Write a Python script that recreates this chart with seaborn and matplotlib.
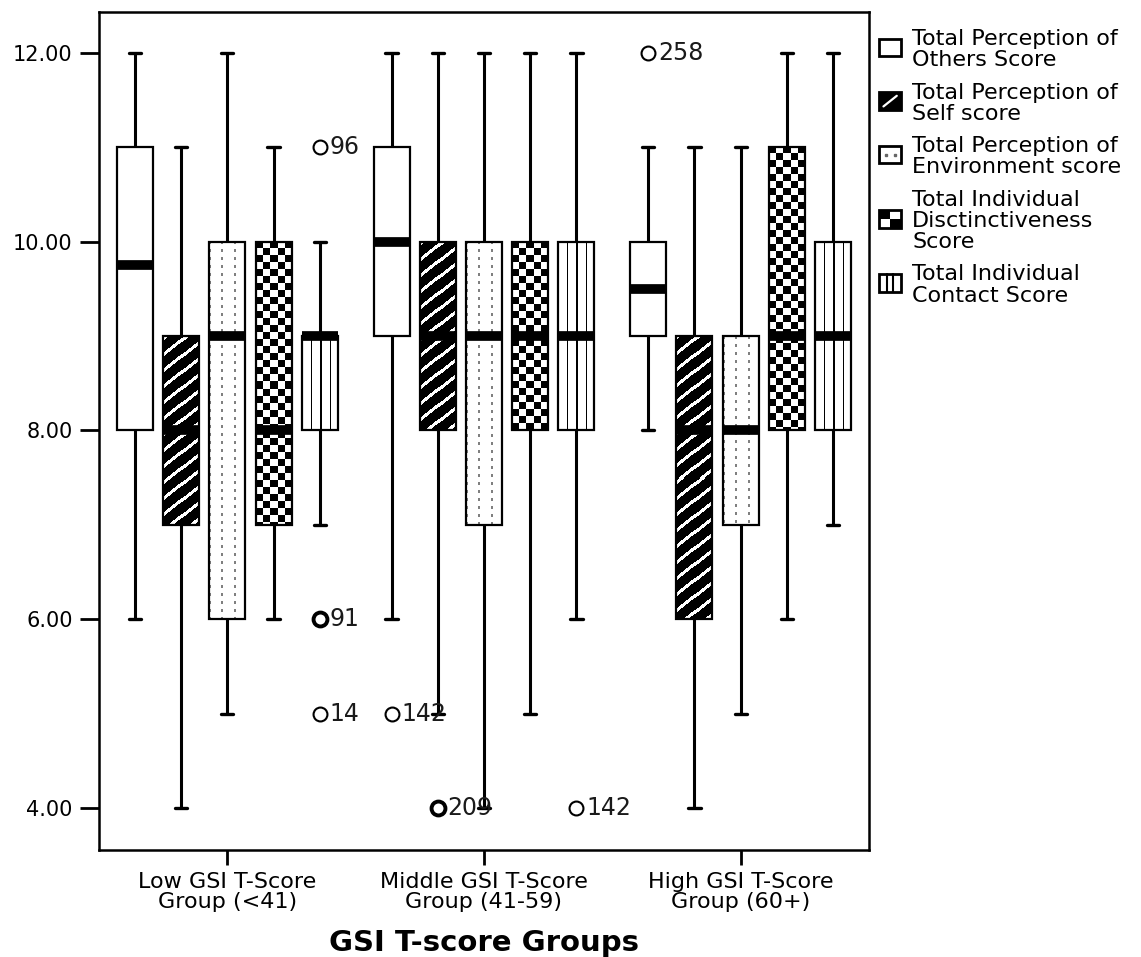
import numpy as np
import pandas as pd
import matplotlib
matplotlib.use("Agg")
import matplotlib.pyplot as plt
import seaborn as sns
from matplotlib.patches import Rectangle, Patch
from matplotlib.lines import Line2D
from matplotlib.ticker import FormatStrFormatter

# === DATA ===
groups = ["Low GSI T-Score\nGroup (<41)", "Middle GSI T-Score\nGroup (41-59)",
          "High GSI T-Score\nGroup (60+)"]
measures = ["Total Perception of\nOthers Score",
            "Total Perception of\nSelf score",
            "Total Perception of\nEnvironment score",
            "Total Individual\nDisctinctiveness\nScore",
            "Total Individual\nContact Score"]

# one row per measure, one column per group
whisk_lo = [[6, 6, 8], [4, 5, 4], [5, 4, 5], [6, 5, 6], [7, 6, 7]]
q1 = [[8, 9, 9], [7, 8, 6], [6, 7, 7], [7, 8, 8], [8, 8, 8]]
median = [[9.75, 10, 9.5], [8, 9, 8], [9, 9, 8], [8, 9, 9], [9, 9, 9]]
q3 = [[11, 11, 10], [9, 10, 9], [10, 10, 9], [10, 10, 11], [9, 10, 10]]
whisk_hi = [[12, 12, 11], [11, 12, 11], [12, 12, 11], [11, 12, 12], [10, 12, 12]]

# outliers: group index, measure index, value, case label, several cases
out_group = [0, 0, 0, 1, 1, 1, 2]
out_measure = [4, 4, 4, 0, 1, 4, 0]
out_value = [11, 6, 5, 5, 4, 4, 12]
out_label = ["96", "91", "14", "142", "209", "142", "258"]
out_multi = [False, True, False, False, True, False, False]

yticks = [4, 6, 8, 10, 12]

# === LONG TABLE: five-number summary per box ===
rows = []
for i, m in enumerate(measures):
    for j, g in enumerate(groups):
        for v in (whisk_lo[i][j], q1[i][j], median[i][j], q3[i][j], whisk_hi[i][j]):
            rows.append((g, m, v))
df = pd.DataFrame(rows, columns=["group", "measure", "score"])

sns.set_style("white")
plt.rcParams["font.family"] = ["DejaVu Sans"]
plt.rcParams["text.color"] = "black"
plt.rcParams["axes.labelcolor"] = "black"
plt.rcParams["xtick.color"] = "black"
plt.rcParams["ytick.color"] = "black"

W, H = 1141, 957
fig = plt.figure(figsize=(W / 100, H / 100), dpi=100)
ax = fig.add_axes([99 / W, 1 - 850 / H, (869 - 99) / W, (850 - 12) / H])

BOXW = 0.9
sns.boxplot(data=df, x="group", y="score", hue="measure", order=groups,
            hue_order=measures, whis=(0, 100), width=BOXW, gap=0.22,
            showfliers=False, palette=["white"] * len(measures), saturation=1,
            linecolor="black", linewidth=1.6, legend=False, ax=ax,
            medianprops=dict(linewidth=7, color="black", solid_capstyle="butt"),
            whiskerprops=dict(linewidth=2.2, color="black"),
            capprops=dict(linewidth=2.4, color="black"))

ax.set_xlim(-0.5, 2.5)
ax.set_ylim(3.555, 12.434)

# shorter whisker caps, as in SPSS
for ln in list(ax.lines):
    xd, yd = np.asarray(ln.get_xdata(), float), np.asarray(ln.get_ydata(), float)
    if len(xd) == 2 and yd[0] == yd[1] and ln.get_linewidth() < 5:
        xc = xd.mean()
        ln.set_xdata([xc - 0.024, xc + 0.024])


# === FILL PATTERNS (SPSS style) ===
def pattern(kind, w, h):
    r, c = np.mgrid[0:h, 0:w]
    if kind == 1:   # white diagonal stripes on black
        return np.where((r + 0.8 * c) % 16 < 4, 1.0, 0.0)
    if kind == 2:   # dotted vertical lines
        arr = np.ones((h, w))
        arr[((c % 12) < 2) & ((r % 8) < 3)] = 0.5
        return arr
    if kind == 3:   # checkerboard
        return ((r // 7 + c // 7) % 2).astype(float)
    if kind == 4:   # vertical lines
        return np.where(c % 9 == 0, 0.0, 1.0)
    return np.ones((h, w))


n = len(measures)
step = BOXW / n
for p in list(ax.patches):
    ext = p.get_path().get_extents()
    xc = (ext.x0 + ext.x1) / 2
    k = int(round((xc - round(xc)) / step + (n - 1) / 2))
    if k == 0:
        continue
    bb = p.get_window_extent()
    w, h = max(int(round(bb.width)), 1), max(int(round(bb.height)), 1)
    p.set_facecolor("none")
    im = ax.imshow(pattern(k, w, h), extent=(ext.x0, ext.x1, ext.y0, ext.y1),
                   origin="upper", cmap="gray", vmin=0, vmax=1,
                   interpolation="nearest", aspect="auto", zorder=1.9)
    im.set_clip_path(p)

# === OUTLIERS ===
for g, m, v, lab, multi in zip(out_group, out_measure, out_value, out_label, out_multi):
    x = g + (m - (n - 1) / 2) * step
    ax.plot(x, v, marker="o", ms=10, mfc="white", mec="black",
            mew=2.8 if multi else 1.5, zorder=3)
    ax.annotate(lab, (x, v), xytext=(7, 0), textcoords="offset points",
                ha="left", va="center", fontsize=17, color="#1a1a1a", zorder=4)

ax.set_xlim(-0.5, 2.5)
ax.set_ylim(3.555, 12.434)

# === AXES ===
ax.set_yticks(yticks)
ax.yaxis.set_major_formatter(FormatStrFormatter("%.2f"))
ax.tick_params(axis="y", length=14, width=2, pad=5, labelsize=15, left=True)
ax.tick_params(axis="x", length=11, width=2, pad=5, labelsize=16, bottom=True)
for t in ax.get_xticklabels():
    t.set_linespacing(1.0)
ax.set_ylabel("")
ax.set_xlabel("GSI T-score Groups", fontsize=21, fontweight="bold", labelpad=12)
for s in ax.spines.values():
    s.set_visible(True)
    s.set_linewidth(1.8)
    s.set_color("black")


# === LEGEND ===
class IconHandler:
    def __init__(self, kind):
        self.kind = kind

    def legend_artist(self, legend, orig_handle, fontsize, handlebox):
        x0, y0 = handlebox.xdescent, handlebox.ydescent
        w, h = handlebox.width, handlebox.height
        tr = handlebox.get_transform()
        arts = []
        if self.kind == 1:
            arts.append(Rectangle((x0, y0), w, h, fc="black", ec="black", lw=2, transform=tr))
            arts.append(Line2D([x0 + 0.2 * w, x0 + 0.8 * w], [y0 + 0.2 * h, y0 + 0.8 * h],
                               color="white", lw=1.6, transform=tr))
        elif self.kind == 3:
            arts.append(Rectangle((x0, y0), w, h, fc="white", ec="black", lw=2, transform=tr))
            arts.append(Rectangle((x0, y0 + h / 2), w / 2, h / 2, fc="black", lw=0, transform=tr))
            arts.append(Rectangle((x0 + w / 2, y0), w / 2, h / 2, fc="black", lw=0, transform=tr))
        else:
            arts.append(Rectangle((x0, y0), w, h, fc="white", ec="black", lw=2, transform=tr))
            if self.kind == 2:
                for fx in (0.3, 0.7):
                    arts.append(Line2D([x0 + fx * w], [y0 + 0.5 * h], marker="s", ms=1.6,
                                       color="#666666", lw=0, transform=tr))
            if self.kind == 4:
                for fx in (0.37, 0.63):
                    arts.append(Line2D([x0 + fx * w] * 2, [y0, y0 + h], color="black",
                                       lw=1.5, transform=tr))
        for a in arts:
            handlebox.add_artist(a)
        return arts[0]


handles = [Patch(label=m) for m in measures]
hmap = {hd: IconHandler(k) for k, hd in enumerate(handles)}
leg = fig.legend(handles, measures, handler_map=hmap, loc="upper left",
                 bbox_to_anchor=(879 / W, 1 - 29 / H), frameon=False, fontsize=16,
                 handlelength=1.0, handleheight=0.85, handletextpad=0.5,
                 labelspacing=0.55, borderpad=0, borderaxespad=0)
for t in leg.get_texts():
    t.set_linespacing(1.08)

fig.savefig("out.png", dpi=100)
